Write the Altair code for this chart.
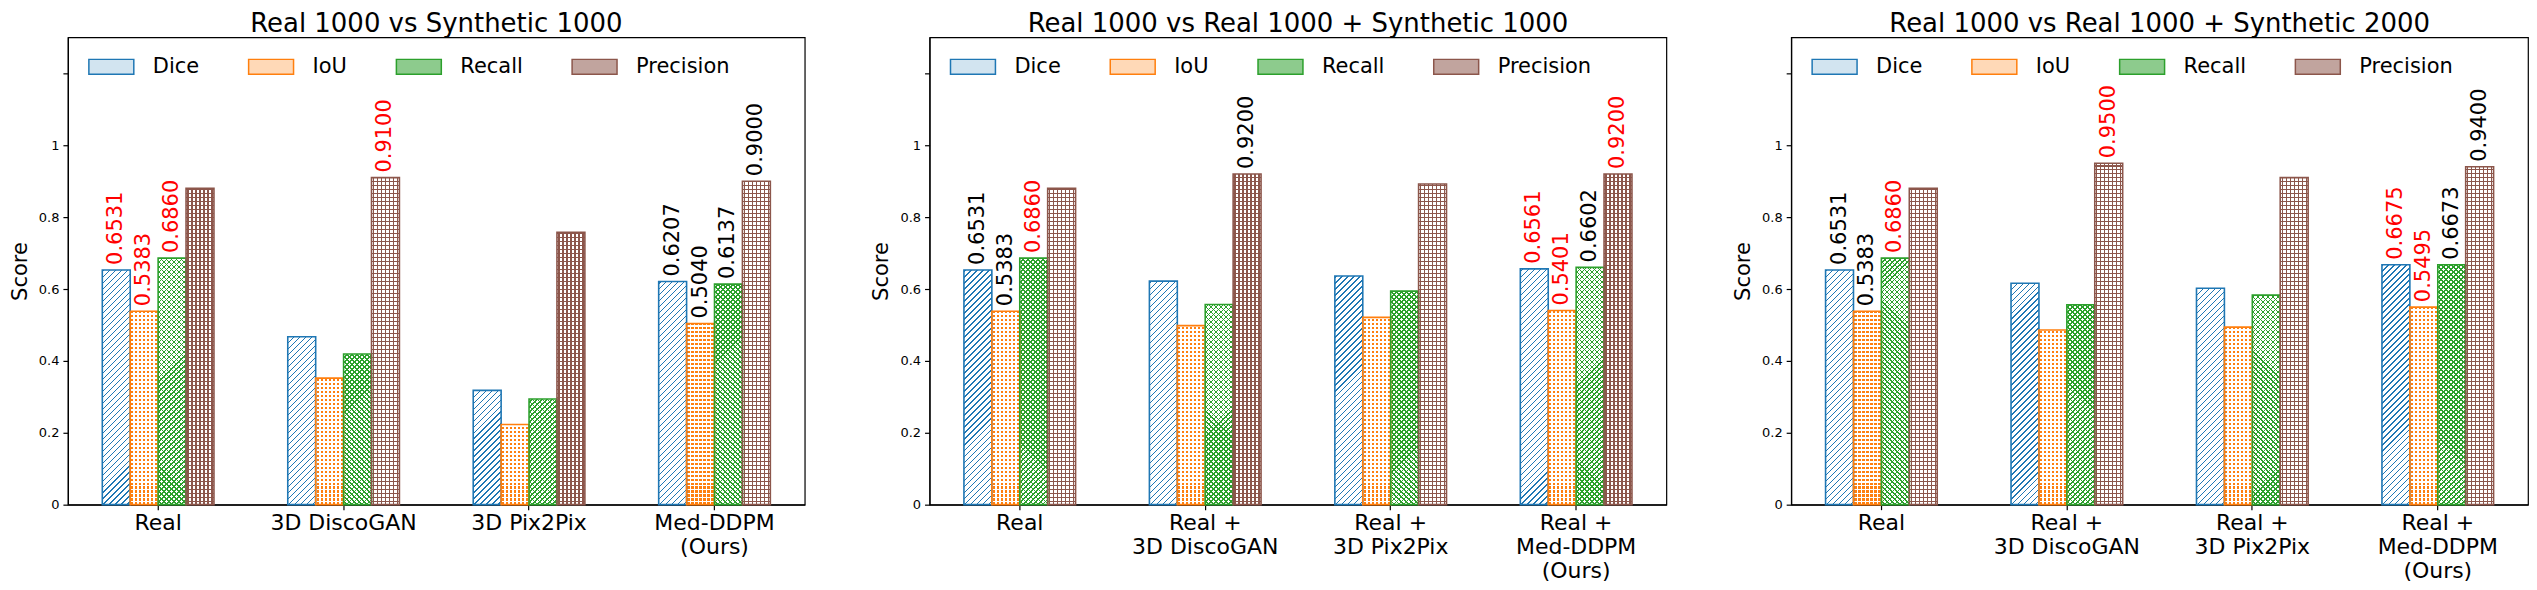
import math
import altair as alt
import pandas as pd

# ---------------- data ----------------
metrics = ["Dice", "IoU", "Recall", "Precision"]
metric_colors = ["#1f77b4", "#ff7f0e", "#2ca02c", "#8c564b"]
legend_light = ["#d2e4f0", "#ffd9b7", "#8dcb8d", "#c1a49e"]

panel_titles = [
    "Real 1000 vs Synthetic 1000",
    "Real 1000 vs Real 1000 + Synthetic 1000",
    "Real 1000 vs Real 1000 + Synthetic 2000",
]

groups_p1 = ["Real", "3D DiscoGAN", "3D Pix2Pix", "Med-DDPM\n(Ours)"]
groups_p2 = ["Real", "Real +\n3D DiscoGAN", "Real +\n3D Pix2Pix", "Real +\nMed-DDPM\n(Ours)"]
groups_p3 = ["Real", "Real +\n3D DiscoGAN", "Real +\n3D Pix2Pix", "Real +\nMed-DDPM\n(Ours)"]

p1_dice = [0.6531, 0.467, 0.318, 0.6207]
p1_iou = [0.5383, 0.352, 0.223, 0.5040]
p1_recall = [0.6860, 0.419, 0.294, 0.6137]
p1_precision = [0.880, 0.9100, 0.758, 0.9000]

p2_dice = [0.6531, 0.622, 0.636, 0.6561]
p2_iou = [0.5383, 0.498, 0.521, 0.5401]
p2_recall = [0.6860, 0.557, 0.594, 0.6602]
p2_precision = [0.880, 0.9200, 0.892, 0.9200]

p3_dice = [0.6531, 0.616, 0.602, 0.6675]
p3_iou = [0.5383, 0.486, 0.494, 0.5495]
p3_recall = [0.6860, 0.556, 0.583, 0.6673]
p3_precision = [0.880, 0.9500, 0.910, 0.9400]

# value-label colours ("" = no label)
p1_lab_dice = ["red", "", "", "black"]
p1_lab_iou = ["red", "", "", "black"]
p1_lab_recall = ["red", "", "", "black"]
p1_lab_precision = ["", "red", "", "black"]

p2_lab_dice = ["black", "", "", "red"]
p2_lab_iou = ["black", "", "", "red"]
p2_lab_recall = ["red", "", "", "black"]
p2_lab_precision = ["", "black", "", "red"]

p3_lab_dice = ["black", "", "", "red"]
p3_lab_iou = ["black", "", "", "red"]
p3_lab_recall = ["red", "", "", "black"]
p3_lab_precision = ["", "red", "", "black"]

y_ticks = [0, 0.2, 0.4, 0.6, 0.8, 1.0, 1.2]

# ---------------- layout constants ----------------
W, H = 738, 468
YMAX = 1.3
PAD_IN, PAD_OUT = 0.398, 0.1855
STEP = W / (4 - PAD_IN + 2 * PAD_OUT)
BAR_W = STEP * (1 - PAD_IN) / 4
SEG_PX = 40.0          # hatch drawn in short pieces so the gradients stay crisp
OVERLAP_PX = 0.7
FONT = "DejaVu Sans"
WHITE = "#ffffff"
CLEAR = "rgba(255,255,255,0)"


# ---------------- hatch helpers (linear gradients) ----------------
def _r(v):
    return round(v, 5)


def stripe_stops(L, period, thick, color, bg, start):
    stops = [{"offset": 0, "color": bg}]
    pos = start
    while pos < L:
        a = max(pos, 0.0)
        b = min(pos + thick, L)
        if b > a:
            a, b = _r(a / L), _r(b / L)
            stops += [
                {"offset": a, "color": bg},
                {"offset": a, "color": color},
                {"offset": b, "color": color},
                {"offset": b, "color": bg},
            ]
        pos += period
    stops.append({"offset": 1, "color": bg})
    return stops


def grad_diag(w, h, period, thick, color, bg, ytop, back=False):
    L = w + h
    k = L / (w * w + h * h)
    if back:
        x1, y1, x2, y2 = 0, 1, w * k, 1 - h * k
        start = ((h + ytop) % period) - period
    else:
        x1, y1, x2, y2 = 0, 0, w * k, h * k
        start = ((-ytop) % period) - period
    return {"gradient": "linear", "x1": _r(x1), "y1": _r(y1), "x2": _r(x2), "y2": _r(y2),
            "stops": stripe_stops(L, period, thick, color, bg, start)}


def grad_vert(w, period, thick, color, bg):
    return {"gradient": "linear", "x1": 0, "y1": 0, "x2": 1, "y2": 0,
            "stops": stripe_stops(w, period, thick, color, bg, period * 0.5 - thick * 0.5)}


def grad_horiz(h, period, thick, color, bg, ytop):
    return {"gradient": "linear", "x1": 0, "y1": 0, "x2": 0, "y2": 1,
            "stops": stripe_stops(h, period, thick, color, bg, ((-ytop) % period) - period)}


def hatch_pair(metric, hs, ytop):
    w = BAR_W
    c = metric_colors[metrics.index(metric)]
    if metric == "Dice":
        return grad_diag(w, hs, 6, 1.3, c, WHITE, ytop), None
    if metric == "IoU":
        return grad_vert(w, 4, 2.2, c, WHITE), grad_horiz(hs, 4, 1.8, WHITE, CLEAR, ytop)
    if metric == "Recall":
        return (grad_diag(w, hs, 5, 1.6, c, WHITE, ytop),
                grad_diag(w, hs, 5, 1.6, c, CLEAR, ytop, back=True))
    return grad_vert(w, 4, 1.3, c, WHITE), grad_horiz(hs, 4, 1.3, c, CLEAR, ytop)


legend_dice_fill = grad_diag(45, 15, 6, 1.3, metric_colors[0], WHITE, 0)


def panel_frames(groups, vals, labs):
    rows, segs = [], []
    px_per_unit = H / YMAX
    for mi, m in enumerate(metrics):
        for gi, g in enumerate(groups):
            v = vals[mi][gi]
            rows.append({"group": g, "metric": m, "value": v, "lc": labs[mi][gi]})
            h = v * px_per_unit
            n = max(1, math.ceil(h / SEG_PX))
            for k in range(n):
                top = v - k * v / n
                bot = v - (k + 1) * v / n
                if k < n - 1:
                    bot -= OVERLAP_PX / px_per_unit
                bot = max(bot, 0.0)
                segs.append({"group": g, "metric": m, "top": top, "bot": bot,
                             "hs": (top - bot) * px_per_unit,
                             "ytop": (YMAX - top) * px_per_unit})
    df = pd.DataFrame(rows)
    sdf = pd.DataFrame(segs)
    sdf["sid"] = list(range(len(sdf)))
    return df, sdf


def make_panel(title, groups, vals, labs, legend_encode):
    df, sdf = panel_frames(groups, vals, labs)
    cond_a, cond_b = [], []
    for _, s in sdf.iterrows():
        ga, gb = hatch_pair(s["metric"], s["hs"], s["ytop"])
        test = "datum.sid === %d" % s["sid"]
        cond_a.append({"test": test, "value": ga})
        if gb is not None:
            cond_b.append({"test": test, "value": gb})
    seg_data = sdf[["group", "metric", "top", "bot", "sid"]]

    x = alt.X(
        "group:N", sort=groups,
        scale=alt.Scale(paddingInner=PAD_IN, paddingOuter=PAD_OUT),
        axis=alt.Axis(title=None, labelAngle=0, labelExpr="split(datum.label, '\\n')",
                      labelFontSize=22, labelLineHeight=24, labelPadding=3, tickSize=5,
                      labelOverlap=False, labelBound=False, bandPosition=0.5, labelLimit=400),
    )
    xo = alt.XOffset("metric:N", sort=metrics, scale=alt.Scale(paddingInner=0, paddingOuter=0))
    yaxis = alt.Axis(values=y_ticks, labelExpr="datum.value > 1.1 ? '' : format(datum.value, '~g')",
                     title="Score", titleFontSize=21, titleFontWeight="normal", titlePadding=8,
                     labelFontSize=13, labelPadding=4, tickSize=5, grid=False, labelOverlap=False)
    yscale = alt.Scale(domain=[0, YMAX], nice=False, zero=True)

    seg_base = alt.Chart(seg_data).encode(
        x=x, xOffset=xo, y=alt.Y("top:Q", scale=yscale, axis=yaxis), y2="bot:Q"
    )
    layer_a = seg_base.mark_bar(strokeWidth=0).encode(fill=alt.FillValue(WHITE, condition=cond_a))
    layer_b = seg_base.mark_bar(strokeWidth=0).encode(fill=alt.FillValue(CLEAR, condition=cond_b))

    base = alt.Chart(df).encode(x=x, xOffset=xo, y=alt.Y("value:Q", scale=yscale, axis=yaxis))

    legend_kw = dict(
        title=None, orient="none", legendX=20, legendY=6, direction="horizontal", columns=4,
        symbolType="M-1,-0.3333H1V0.3333H-1Z", symbolSize=2025, symbolStrokeWidth=1.5,
        symbolOpacity=1, labelFontSize=21, labelColor="black", labelFont=FONT, labelOffset=18,
        columnPadding=46, padding=0,
    )
    if legend_encode:
        legend_kw["encode"] = {"symbols": {"fill": {
            "condition": [{"test": "datum.value === 'Dice'", "value": legend_dice_fill}],
            "scale": "fill", "field": "value"}}}
    stroke_scale = alt.Scale(domain=metrics, range=metric_colors)
    fill_scale = alt.Scale(domain=metrics, range=legend_light)

    # invisible layer that only carries the legend (light fill + coloured edge)
    legend_layer = base.mark_bar(opacity=0).encode(
        fill=alt.Fill("metric:N", sort=metrics, scale=fill_scale, legend=alt.Legend(**legend_kw)),
        stroke=alt.Stroke("metric:N", sort=metrics, scale=stroke_scale, legend=alt.Legend(**legend_kw)),
    )
    outline = base.mark_bar(fill="transparent", strokeWidth=1.6).encode(
        stroke=alt.Stroke("metric:N", sort=metrics, scale=stroke_scale, legend=None)
    )
    labels = base.transform_filter("datum.lc != ''").mark_text(
        angle=270, align="left", baseline="middle", dx=5, fontSize=21, font=FONT
    ).encode(text=alt.Text("value:Q", format=".4f"), color=alt.Color("lc:N", scale=None))

    return alt.layer(legend_layer, layer_a, layer_b, outline, labels).properties(
        width=W, height=H,
        title=alt.TitleParams(title, fontSize=26, fontWeight="normal", anchor="middle",
                              offset=0, color="black", font=FONT),
    )


def build(legend_encode):
    p1 = make_panel(panel_titles[0], groups_p1, [p1_dice, p1_iou, p1_recall, p1_precision],
                    [p1_lab_dice, p1_lab_iou, p1_lab_recall, p1_lab_precision], legend_encode)
    p2 = make_panel(panel_titles[1], groups_p2, [p2_dice, p2_iou, p2_recall, p2_precision],
                    [p2_lab_dice, p2_lab_iou, p2_lab_recall, p2_lab_precision], legend_encode)
    p3 = make_panel(panel_titles[2], groups_p3, [p3_dice, p3_iou, p3_recall, p3_precision],
                    [p3_lab_dice, p3_lab_iou, p3_lab_recall, p3_lab_precision], legend_encode)
    ch = (
        alt.hconcat(p1, p2, p3, spacing=64)
        .resolve_scale(stroke="independent", fill="independent", color="independent")
        .resolve_legend(stroke="independent", fill="independent")
        .properties(padding={"left": 0, "top": 2, "right": 0, "bottom": 0}, background="white")
        .configure(font=FONT)
        .configure_view(stroke="black", strokeWidth=1.2)
        .configure_axis(domainColor="black", tickColor="black", labelColor="black",
                        titleColor="black", labelFont=FONT, titleFont=FONT,
                        domainWidth=1.2, tickWidth=1.2)
        .configure_axisX(labelFontSize=22)
        .configure_axisY(labelFontSize=13)
        .configure_legend(labelFontSize=21)
    )
    return ch


try:
    chart = build(True)
    chart.to_dict()
except Exception:
    chart = build(False)

chart.save("out.html", embed_options={"renderer": "svg", "actions": False})
